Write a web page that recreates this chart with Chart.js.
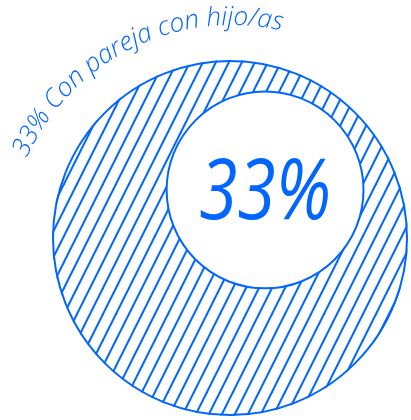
<!DOCTYPE html>
<html>
<head>
<meta charset="utf-8">
<script src="https://cdn.jsdelivr.net/npm/chart.js@4.4.0/dist/chart.umd.min.js"></script>
<style>
    html, body { margin: 0; padding: 0; background: #fff; }
    #wrap { width: 411px; height: 420px; }
</style>
</head>
<body>
<div id="wrap"><canvas id="pie_chart"></canvas></div>
<script>
var categories = ["Con pareja con hijo/as"];
var percentages = [33];

var BLUE = '#0066ff';

// diagonal hatch tile, lines rising to the right
function hatchPattern() {
    var w = 13, h = 26;
    var tile = document.createElement('canvas');
    tile.width = w;
    tile.height = h;
    var c = tile.getContext('2d');
    c.strokeStyle = BLUE;
    c.lineWidth = 2;
    [0, h, 2 * h].forEach(function (k) {
        c.beginPath();
        c.moveTo(-2, k + 4);
        c.lineTo(w + 2, k - h - 4);
        c.stroke();
    });
    return c.createPattern(tile, 'repeat');
}

function drawArcText(ctx, str, cx, cy, r, midAngle) {
    var total = ctx.measureText(str).width;
    var a = midAngle - total / r / 2;
    var acc = 0;
    ctx.textAlign = 'center';
    ctx.textBaseline = 'alphabetic';
    for (var i = 0; i < str.length; i++) {
        var ch = str[i];
        var w = ctx.measureText(ch).width;
        var ang = a + (acc + w / 2) / r;
        ctx.save();
        ctx.translate(cx + r * Math.cos(ang), cy + r * Math.sin(ang));
        ctx.rotate(ang + Math.PI / 2);
        ctx.fillText(ch, 0, 0);
        ctx.restore();
        acc += w;
    }
}

var overlay = {
    id: 'overlay',
    afterDatasetsDraw: function (chart) {
        var arc = chart.getDatasetMeta(0).data[0];
        var R = arc.outerRadius, cx = arc.x, cy = arc.y;
        var ctx = chart.ctx;
        ctx.save();

        // outline of the full circle (no radial seam)
        ctx.beginPath();
        ctx.arc(cx, cy, R - 1, 0, Math.PI * 2);
        ctx.lineWidth = 2;
        ctx.strokeStyle = BLUE;
        ctx.stroke();

        // white inner circle, offset up and right
        var ix = cx + 0.197 * R, iy = cy - 0.27 * R, ir = 0.553 * R;
        ctx.beginPath();
        ctx.arc(ix, iy, ir, 0, Math.PI * 2);
        ctx.fillStyle = '#fff';
        ctx.fill();
        ctx.stroke();

        // big value
        var big = percentages[0] + '%';
        ctx.fillStyle = BLUE;
        ctx.font = 'italic 400 84px "Open Sans"';
        ctx.textAlign = 'center';
        ctx.textBaseline = 'alphabetic';
        var sx = 0.74 * R / ctx.measureText(big).width;
        ctx.save();
        ctx.translate(ix, iy + 0.30 * ir);
        ctx.scale(sx, 1);
        ctx.fillText(big, 0, 0);
        ctx.restore();

        // curved label
        ctx.font = 'italic 300 26px "Open Sans"';
        drawArcText(ctx, percentages[0] + '% ' + categories[0],
            cx + 0.011 * R, cy + 0.067 * R, 1.264 * R, -116.6 * Math.PI / 180);
        ctx.restore();
    }
};

new Chart(document.getElementById('pie_chart').getContext('2d'), {
    type: 'pie',
    data: {
        labels: categories,
        datasets: [{
            data: percentages,
            backgroundColor: hatchPattern(),
            borderWidth: 0
        }]
    },
    options: {
        responsive: true,
        maintainAspectRatio: false,
        animation: false,
        layout: { padding: { left: 52, right: 3, top: 60, bottom: 4 } },
        plugins: {
            legend: { display: false },
            tooltip: { enabled: false }
        }
    },
    plugins: [overlay]
});
</script>
</body>
</html>
